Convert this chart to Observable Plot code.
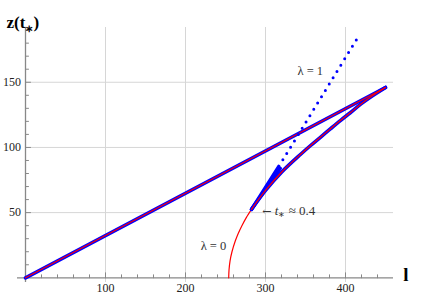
<!DOCTYPE html>
<html><head><meta charset="utf-8">
<script src="https://cdn.jsdelivr.net/npm/d3@7"></script>
<script src="https://cdn.jsdelivr.net/npm/@observablehq/plot@0.6"></script>
<style>body{margin:0;background:#fff}</style>
</head><body><div id="chart"></div>
<script>
// tick values
const xMajor = [100, 200, 300, 400];
const xMinor = [20, 40, 60, 80, 120, 140, 160, 180, 220, 240, 260, 280, 320, 340, 360, 380, 420, 440];
const yMajor = [50, 100, 150];
const yMinor = [10, 20, 30, 40, 60, 70, 80, 90, 110, 120, 130, 140, 160, 170, 180, 190];

// straight branch
const straightL = [0, 450];
const straightZ = [0, 146];
// lambda = 0 red curve (below the junction)
const lam0L = [254, 254.4, 255.7, 258.1, 262.1, 265.9, 270.5, 275.8, 282.5];
const lam0Z = [0, 6, 13, 20, 28, 34, 40, 46, 52.5];
// curved branch up to the cusp
const branchL = [282.5, 300, 320, 344, 356, 369, 381, 394, 406, 419, 431, 450];
const branchZ = [52.5, 67, 81, 94.8, 101.3, 108, 114.2, 120.8, 126.6, 133.2, 138.5, 146];
// lambda = 1 : solid fan near the junction and dotted continuation
const fanAL = [282.5, 316.6];
const fanAZ = [52.5, 85.5];
const fanBL = [282.5, 318.5];
const fanBZ = [52.5, 84];
const dotL = [321.7, 416];
const dotZ = [90.5, 185];

// annotations
const labelText = ["λ = 1", "λ = 0"];
const labelL = [356, 235];
const labelZ = [159, 24.6];
const tLabelText = "← t* ≈ 0.4";
const tLabelL = 296;
const tLabelZ = 51.5;

const tbl = (L, Z) => L.map((l, i) => ({l, z: Z[i]}));
const straight = tbl(straightL, straightZ);
const lam0 = tbl(lam0L, lam0Z);
const branch = tbl(branchL, branchZ);
const fanA = tbl(fanAL, fanAZ);
const fanB = tbl(fanBL, fanBZ);
const dots = tbl(dotL, dotZ);
const labels = labelText.map((t, i) => ({t, l: labelL[i], z: labelZ[i]}));

const SERIF = "'Liberation Serif', 'Times New Roman', Times, serif";
const tickShape = {draw(context, l) { context.moveTo(0, 0); context.lineTo(0, -l); }};
const axisCol = "#888";
const gridCol = "#d6d6d6";
const BLUE = "#0000ff", RED = "#ff0000";

const chart = Plot.plot({
  width: 422, height: 300,
  marginLeft: 17, marginRight: 29, marginTop: 27, marginBottom: 18,
  x: {domain: [-10, 460], axis: null},
  y: {domain: [-3.6, 192], axis: null},
  style: {fontFamily: SERIF, background: "white"},
  marks: [
    Plot.ruleX(xMajor, {stroke: gridCol, strokeWidth: 1}),
    Plot.ruleY(yMajor, {stroke: gridCol, strokeWidth: 1, x1: () => 0, x2: () => 460}),
    Plot.ruleY([0], {stroke: axisCol, strokeWidth: 1.3}),
    Plot.ruleX([0], {stroke: axisCol, strokeWidth: 1.3}),
    Plot.vector(xMajor, {x: d => d, y: () => 0, length: 5, rotate: 0, anchor: "start", shape: tickShape, stroke: axisCol, strokeWidth: 1}),
    Plot.vector(xMinor, {x: d => d, y: () => 0, length: 3, rotate: 0, anchor: "start", shape: tickShape, stroke: axisCol, strokeWidth: 1}),
    Plot.vector(yMajor, {x: () => 0, y: d => d, length: 5, rotate: 90, anchor: "start", shape: tickShape, stroke: axisCol, strokeWidth: 1}),
    Plot.vector(yMinor, {x: () => 0, y: d => d, length: 3, rotate: 90, anchor: "start", shape: tickShape, stroke: axisCol, strokeWidth: 1}),
    Plot.text(xMajor, {x: d => d, y: () => 0, dy: 10, text: d => String(d), fontSize: 12, fontFamily: SERIF, fill: "#222"}),
    Plot.text(yMajor, {x: () => 0, y: d => d, dx: -4.5, textAnchor: "end", text: d => String(d), fontSize: 12, fontFamily: SERIF, fill: "#222"}),
    Plot.line(lam0, {x: "l", y: "z", stroke: RED, strokeWidth: 1.2, curve: "catmull-rom"}),
    Plot.line(straight, {x: "l", y: "z", stroke: BLUE, strokeWidth: 3.6}),
    Plot.line(branch, {x: "l", y: "z", stroke: BLUE, strokeWidth: 3.6, curve: "catmull-rom"}),
    Plot.line(fanA, {x: "l", y: "z", stroke: BLUE, strokeWidth: 3.4}),
    Plot.line(fanB, {x: "l", y: "z", stroke: BLUE, strokeWidth: 3.4}),
    Plot.line(straight, {x: "l", y: "z", stroke: RED, strokeWidth: 1.2}),
    Plot.line(branch, {x: "l", y: "z", stroke: RED, strokeWidth: 1.2, curve: "catmull-rom"}),
    Plot.line(dots, {x: "l", y: "z", stroke: BLUE, strokeWidth: 3, strokeDasharray: "0 7.4", strokeLinecap: "round"}),
    Plot.text(labels, {x: "l", y: "z", text: "t", fontSize: 12.5, fontFamily: SERIF, fill: "#333"}),
    Plot.text([tLabelText], {x: () => tLabelL, y: () => tLabelZ, text: d => d, textAnchor: "start", fontSize: 13, fontFamily: SERIF, fill: "#333"}),
    Plot.text(["z(t*)"], {frameAnchor: "top-left", dx: -11, dy: -12, textAnchor: "start", text: d => d, fontSize: 17, fontWeight: "bold", fontFamily: SERIF, fill: "#000"}),
    Plot.text(["l"], {frameAnchor: "bottom-right", dx: 15, dy: -2, text: d => d, fontSize: 19, fontWeight: "bold", fontFamily: SERIF, fill: "#000"})
  ]
});
document.getElementById("chart").appendChild(chart);

d3.select(chart).selectAll("text").each(function() {
  const el = d3.select(this);
  const s = el.text();
  if (s === tLabelText) {
    el.text(null);
    el.append("tspan").attr("font-family", "'DejaVu Serif', serif").attr("font-size", 11).text("←");
    el.append("tspan").text(" ");
    el.append("tspan").attr("font-style", "italic").text("t");
    el.append("tspan").attr("font-size", 8).attr("dy", 2).text("∗");
    el.append("tspan").attr("dy", -2).text(" ≈ 0.4");
  } else if (s === "z(t*)") {
    el.text(null);
    el.append("tspan").text("z(t");
    el.append("tspan").attr("font-size", 10).attr("dy", 4).text("∗");
    el.append("tspan").attr("dy", -4).text(")");
  }
});
</script>
</body></html>
